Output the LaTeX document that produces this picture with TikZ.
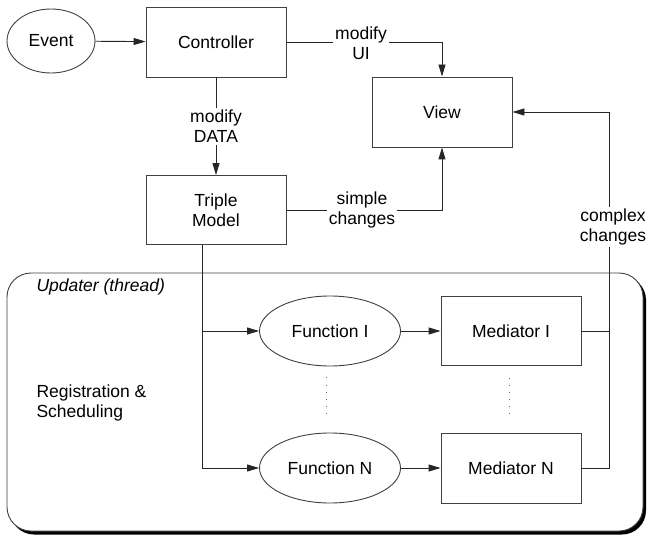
\documentclass[tikz,border=0pt]{standalone}
\usepackage{fontspec}
\setmainfont{Liberation Sans}
\usetikzlibrary{shapes.geometric,arrows.meta}
\begin{document}
\begin{tikzpicture}[x=1pt,y=-1pt,
  font=\fontsize{17.5}{20}\selectfont,
  box/.style={draw=black!75, line width=0.9pt, minimum width=140pt, minimum height=70pt, inner sep=0pt, align=center},
  oval/.style={ellipse, draw=black!75, line width=0.9pt, inner sep=0pt, align=center},
  conn/.style={line width=0.9pt, draw=black!85},
  arr/.style={conn, -{Triangle[length=12pt,width=7pt]}},
  lbl/.style={fill=white, inner sep=2pt, align=center},
  dots/.style={draw=black!60, line width=0.9pt, dash pattern=on 0.9pt off 6.2pt}]
\useasboundingbox (0,0) rectangle (647,537);
% updater container with shadow
\fill[black, rounded corners=24pt] (10,276) rectangle (646,534.5);
\draw[fill=white, draw=black!75, line width=0.9pt, rounded corners=24pt] (7,273) rectangle (643,531);
% nodes
\node[oval, minimum width=88pt, minimum height=64pt] (event) at (51,41) {Event};
\node[box] (ctrl) at (216,42) {Controller};
\node[box] (view) at (442,112) {View};
\node[box, minimum height=69pt] (triple) at (216,210) {Triple\\Model};
\node[oval, minimum width=141pt, minimum height=70pt] (f1) at (330,331) {Function I};
\node[box, minimum height=69pt] (m1) at (511,331) {Mediator I};
\node[oval, minimum width=141pt, minimum height=70pt] (fn) at (330,468) {Function N};
\node[box] (mn) at (511,468) {Mediator N};
\node[anchor=west, font=\fontsize{17.5}{20}\selectfont\itshape] (upd) at (33,287) {Updater (thread)};
\node[anchor=west, align=left] (reg) at (33,403) {Registration \&\\Scheduling};
% connectors
\draw[arr] (event) -- (ctrl);
\draw[arr] (ctrl.east) -| (view.north);
\node[lbl] (lui) at (361,43) {modify\\UI};
\draw[arr] (ctrl) -- (triple) node[lbl, midway] (ldata) {modify\\DATA};
\draw[arr] (triple.east) -| (view.south);
\node[lbl] (lsimple) at (362,210) {simple\\changes};
\draw[arr] ([xshift=-14pt]triple.south) |- (f1.west);
\draw[arr] ([xshift=-14pt]triple.south) |- (fn.west);
\draw[arr] (f1) -- (m1);
\draw[arr] (fn) -- (mn);
\coordinate (cc) at (609,112);
\draw[arr] (mn.east) -| (cc) -- (view.east);
\draw[conn] (m1.east) -- (m1.east -| cc);
\node[lbl] (lcomplex) at (613,227) {complex\\changes};
% dots
\draw[dots] ([xshift=-4pt,yshift=-11pt]f1.south) -- ([xshift=-4pt,yshift=19pt]fn.north);
\draw[dots] ([xshift=-2pt,yshift=-12pt]m1.south) -- ([xshift=-2pt,yshift=18pt]mn.north);
\end{tikzpicture}
\end{document}
